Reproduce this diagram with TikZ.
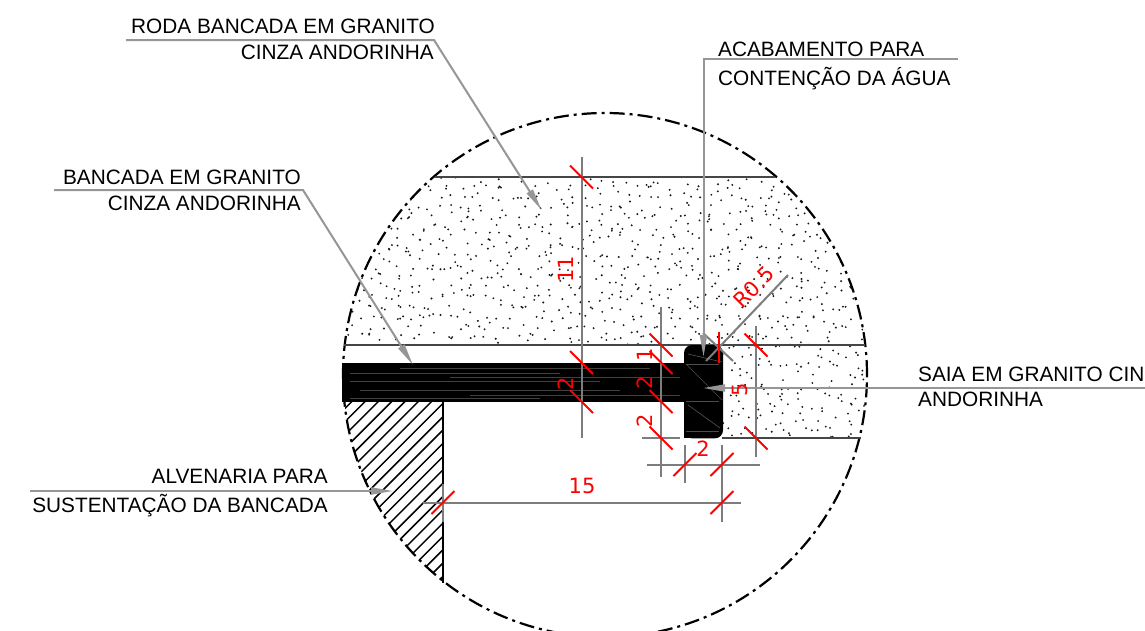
\documentclass[tikz,border=0pt]{standalone}
\usepackage{fontspec}
\setmainfont{Liberation Sans}
\newfontfamily\dimfont{DejaVu Sans}
\usetikzlibrary{arrows.meta}
\definecolor{leadgray}{RGB}{150,150,150}
\definecolor{dimgray}{RGB}{125,125,125}
\definecolor{edgegray}{RGB}{70,70,70}
\tikzset{
  lbl/.style={font=\fontsize{20.8}{20.8}\selectfont,text=black,inner sep=0pt,anchor=base east},
  lbll/.style={font=\fontsize{20.8}{20.8}\selectfont,text=black,inner sep=0pt,anchor=base west},
  dimtxt/.style={font=\dimfont\fontsize{21}{21}\selectfont,text=red,inner sep=0pt},
  leader/.style={draw=leadgray,line width=2pt},
  leadarrow/.style={draw=leadgray,line width=2pt,-{Triangle[length=22pt,width=7pt,color=leadgray]}},
  dimline/.style={draw=dimgray,line width=2pt},
  dimtick/.style={draw=red,line width=2pt},
  edge/.style={draw=edgegray,line width=2.2pt},
  hatchline/.style={draw=black,line width=1.5pt},
  streak/.style={draw=black!70!white,line width=.7pt},
  border/.style={draw=black,line width=2.2pt,dash pattern=on 15pt off 5pt on 3pt off 5pt},
}
\newcommand{\tka}[2]{\draw[dimtick] ({#1-11.5},{#2-11.5}) -- ({#1+11.5},{#2+11.5});}
\newcommand{\tkb}[2]{\draw[dimtick] ({#1-11.5},{#2+11.5}) -- ({#1+11.5},{#2-11.5});}
\begin{document}
\begin{tikzpicture}[x=1pt,y=-1pt]
\useasboundingbox (0,0) rectangle (1145,630);
\clip (0,0) rectangle (1145,630);
\fill[white] (0,0) rectangle (1145,630);
\coordinate (cc) at (605,375);
% stipple: jittered grid, evenly spread with small clusters
\pgfmathsetseed{4127}
\begin{scope}
  \clip (cc) circle [radius=262pt];
  \clip (336,177) rectangle (880,345) (722,345) rectangle (880,438);
  \foreach \gy in {177,187,...,437}{
    \fill[black!90]
    \foreach \gx in {340,350,...,870}{
      \pgfextra{\pgfmathsetmacro{\dx}{\gx+rnd*15-2.5}\pgfmathsetmacro{\dy}{\gy+rnd*15-2.5}}
      (\dx,\dy) circle [radius=1.05pt]
    };
  }
\end{scope}
% hatch
\begin{scope}
  \clip (cc) circle [radius=262pt];
  \clip (336,402) rectangle (443,590);
  \foreach \k in {-9,...,14}{
    \draw[hatchline] ({443},{416.7+13.3*\k}) -- ({243},{616.7+13.3*\k});
  }
\end{scope}
% outline
\draw[border] (cc) circle [radius=262pt];
% edges
\draw[edge] (435,177) -- (775,177);
\draw[edge] (344,345) -- (865,345);
\draw[edge] (722,438) -- (861,438);
\draw[draw=black,line width=2pt] (443,402) -- (443,583);
% bench
\fill[black] (342,362.5) rectangle (685,402);
\foreach \yy/\xa/\xb in {368/400/650,373/350/560,377/450/680,381/350/600,390/360/620,395/470/680,398/350/540}{
  \draw[draw=black!75!white,line width=.5pt] (\xa,\yy) -- (\xb,\yy);
}
% block
\fill[black,rounded corners=8pt] (684,438.3) -- (684,345) -- (723,345) -- (723,438.3) -- cycle;
\fill[black] (684,430) rectangle (700,438.3);
\draw[streak] (686,364) -- (719,364);
\draw[streak] (686,401) -- (719,401);
\draw[streak] (686,364) -- (722,400);
\draw[streak] (688,405) -- (720,428);
\draw[streak] (686,431) -- (719,431);
\draw[streak] (688,354) -- (722,362);
% dimension lines
\draw[dimline] (581.5,157) -- (581.5,438);
\draw[dimline] (661,307) -- (661,477);
\draw[dimline] (756,326) -- (756,457);
\draw[dimline] (642,438) -- (680,438);
\draw[dimline] (647,464.5) -- (760,464.5);
\draw[dimline] (685,445) -- (685,483);
\draw[dimline] (722,445) -- (722,522);
\draw[dimline] (423,502.5) -- (741,502.5);
\draw[dimline] (443,484) -- (443,522);
\draw[dimline] (706,361) -- (788,275);
\draw[dimline] (703,333) -- (733,361);
% ticks
\tka{581.5}{177} \tka{581.5}{362.5} \tka{581.5}{401.5}
\tka{661}{345} \tka{661}{362.5} \tka{661}{401.5} \tka{661}{438}
\tka{756}{345} \tka{756}{438}
\tkb{685}{464.5} \tkb{722}{464.5}
\tkb{722}{502.5} \tkb{443}{502.5}
\draw[dimtick] (719,332) -- (719,363);
% leaders
\coordinate (rodaA) at (126,40); \coordinate (rodaB) at (434,40); \coordinate (rodaC) at (541.5,210);
\coordinate (acaA) at (958,59); \coordinate (acaB) at (703.5,59); \coordinate (acaC) at (703.5,357);
\coordinate (banA) at (54,190); \coordinate (banB) at (303,190); \coordinate (banC) at (413,365);
\coordinate (saiaA) at (1145,388); \coordinate (saiaC) at (703,388);
\coordinate (alvA) at (30,491); \coordinate (alvC) at (393,491);
\draw[leadarrow] (rodaA) -- (rodaB) -- (rodaC);
\draw[leadarrow] (acaA) -- (acaB) -- (acaC);
\draw[leadarrow] (banA) -- (banB) -- (banC);
\draw[leadarrow] (saiaA) -- (saiaC);
\draw[leadarrow] (alvA) -- (alvC);
% labels
\node[lbl] (t1) at (435,33) {RODA BANCADA EM GRANITO};
\node[lbl] (t2) at (434,59) {CINZA ANDORINHA};
\node[lbll] (t3) at (718,56) {ACABAMENTO PARA};
\node[lbll] (t4) at (718,85) {CONTENÇÃO DA ÁGUA};
\node[lbl] (t5) at (301,184) {BANCADA EM GRANITO};
\node[lbl] (t6) at (301,210) {CINZA ANDORINHA};
\node[lbll] (t7) at (918,381) {SAIA EM GRANITO CIN};
\node[lbll] (t8) at (918,406) {ANDORINHA};
\node[lbl] (t9) at (328,483) {ALVENARIA PARA};
\node[lbl] (t10) at (328,512) {SUSTENTAÇÃO DA BANCADA};
% dim text
\node[dimtxt,rotate=90] (d1) at (566,269) {11};
\node[dimtxt,rotate=90] (d2) at (566,384) {2};
\node[dimtxt,rotate=90] (d3) at (645,355) {1};
\node[dimtxt,rotate=90] (d4) at (645,383) {2};
\node[dimtxt,rotate=90] (d5) at (645,421) {2};
\node[dimtxt,rotate=90] (d6) at (740,390) {5};
\node[dimtxt] (d7) at (703,449) {2};
\node[dimtxt] (d8) at (582,486) {15};
\node[dimtxt,rotate=45] (d9) at (754,287) {R0.5};
\end{tikzpicture}
\end{document}
